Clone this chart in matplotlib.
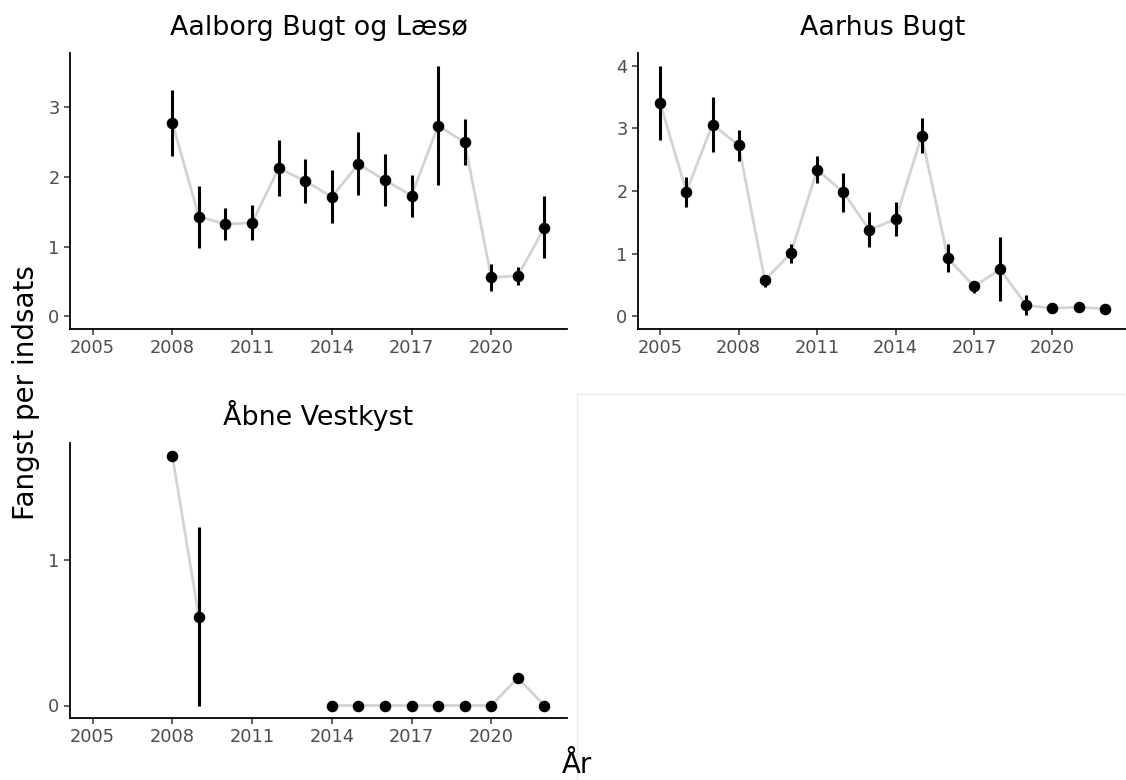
import numpy as np
import matplotlib.pyplot as plt
from matplotlib.patches import Rectangle

plt.rcParams['font.family'] = ['DejaVu Sans']

# Data (mean catch per effort with confidence limits)
years = np.arange(2005, 2023)

aalborg_mean = [np.nan, np.nan, np.nan, 2.77, 1.43, 1.32, 1.34, 2.12, 1.94, 1.71,
                2.18, 1.95, 1.73, 2.73, 2.49, 0.56, 0.58, 1.27]
aalborg_low = [np.nan, np.nan, np.nan, 2.29, 0.98, 1.09, 1.09, 1.73, 1.63, 1.33,
               1.74, 1.58, 1.43, 1.88, 2.16, 0.36, 0.45, 0.83]
aalborg_high = [np.nan, np.nan, np.nan, 3.24, 1.86, 1.55, 1.60, 2.52, 2.25, 2.09,
                2.64, 2.33, 2.03, 3.59, 2.82, 0.75, 0.71, 1.72]

aarhus_mean = [3.40, 1.99, 3.06, 2.73, 0.58, 1.01, 2.34, 1.98, 1.38, 1.55,
               2.88, 0.93, 0.48, 0.75, 0.18, 0.13, 0.15, 0.12]
aarhus_low = [2.81, 1.75, 2.62, 2.48, 0.47, 0.85, 2.12, 1.66, 1.11, 1.29,
              2.60, 0.71, 0.38, 0.24, 0.02, 0.06, 0.10, 0.07]
aarhus_high = [4.00, 2.23, 3.50, 2.98, 0.66, 1.15, 2.56, 2.29, 1.66, 1.82,
               3.16, 1.15, 0.55, 1.26, 0.34, 0.18, 0.21, 0.15]

vestkyst_mean = [np.nan, np.nan, np.nan, 1.716, 0.607, np.nan, np.nan, np.nan, np.nan, 0.0,
                 0.0, 0.0, 0.0, 0.0, 0.0, 0.0, 0.19, 0.0]
vestkyst_low = [np.nan, np.nan, np.nan, np.nan, 0.0, np.nan, np.nan, np.nan, np.nan, np.nan,
                np.nan, np.nan, np.nan, np.nan, np.nan, np.nan, np.nan, np.nan]
vestkyst_high = [np.nan, np.nan, np.nan, np.nan, 1.223, np.nan, np.nan, np.nan, np.nan, np.nan,
                 np.nan, np.nan, np.nan, np.nan, np.nan, np.nan, np.nan, np.nan]

panels = [
    ("Aalborg Bugt og Læsø", aalborg_mean, aalborg_low, aalborg_high, [0, 1, 2, 3]),
    ("Aarhus Bugt", aarhus_mean, aarhus_low, aarhus_high, [0, 1, 2, 3, 4]),
    ("Åbne Vestkyst", vestkyst_mean, vestkyst_low, vestkyst_high, [0, 1]),
]

W, H = 1126, 780
fig = plt.figure(figsize=(W / 100, H / 100), dpi=100)

# axes boxes in pixels: left, top, right, bottom
boxes = [(70, 53, 567, 329), (638, 53, 1127, 329), (70, 443, 567, 718)]

for (title, mean, low, high, yticks), (l, t, r, b) in zip(panels, boxes):
    ax = fig.add_axes([l / W, 1 - b / H, (r - l) / W, (b - t) / H])
    mean = np.array(mean, dtype=float)
    low = np.array(low, dtype=float)
    high = np.array(high, dtype=float)

    # grey line breaks where a year is missing
    ax.plot(years, mean, color='#d3d3d3', lw=2, zorder=1)
    ax.vlines(years, low, high, color='black', lw=2.2, zorder=2)
    ax.plot(years, mean, 'o', color='black', ms=7.3, zorder=3)

    lo = np.nanmin(np.concatenate([mean, low, [0]]))
    hi = np.nanmax(np.concatenate([mean, high]))
    pad = (hi - lo) * 0.05
    ax.set_ylim(lo - pad, hi + pad)
    ax.set_xlim(2005 - 0.85, 2022 + 0.85)
    ax.set_xticks(range(2005, 2021, 3))
    ax.set_yticks(yticks)

    for side in ['top', 'right']:
        ax.spines[side].set_visible(False)
    for side in ['left', 'bottom']:
        ax.spines[side].set_linewidth(1.3)
    ax.tick_params(colors='#4d4d4d', labelsize=12.8, length=4, width=1.1)
    ax.tick_params(axis='both', color='#333333')
    ax.set_title(title, fontsize=19.4, pad=13)

# empty fourth facet slot
fig.patches.append(Rectangle((577 / W, 0), 1, 1 - 394 / H, transform=fig.transFigure,
                             fill=False, edgecolor='#ececec', lw=1))

fig.text(26 / W, 1 - 393 / H, 'Fangst per indsats', rotation=90, fontsize=20,
         ha='center', va='center')
fig.text(577 / W, 0.001, 'År', fontsize=20, ha='center', va='bottom')

fig.savefig('out.png', dpi=100)
